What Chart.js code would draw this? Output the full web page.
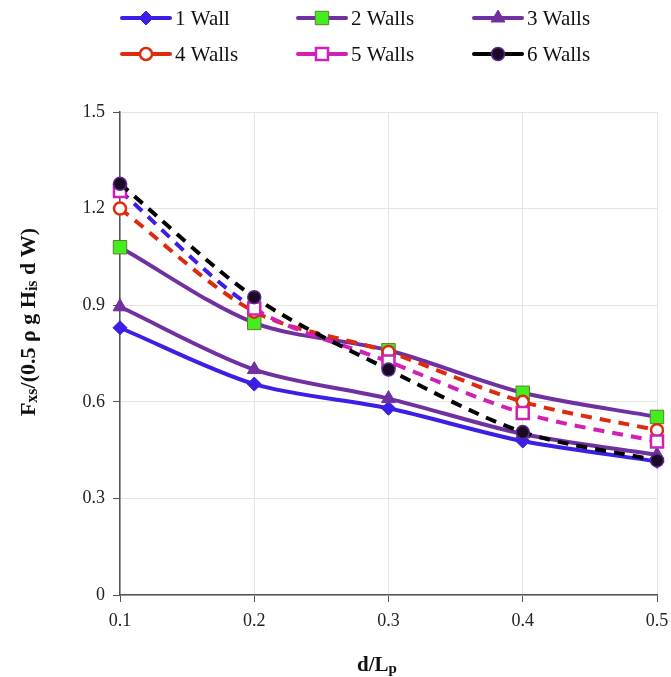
<!DOCTYPE html>
<html>
<head>
<meta charset="utf-8">
<script src="https://cdn.jsdelivr.net/npm/chart.js@4.4.1/dist/chart.umd.min.js"></script>
<style>
    html, body { margin: 0; padding: 0; background: #fff; }
    #wrap { width: 671px; height: 677px; position: relative; }
</style>
</head>
<body>
<div id="wrap"><canvas id="wallChart"></canvas></div>
<script>
// d/Lp values and force ratios
const ratios = [0.1, 0.2, 0.3, 0.4, 0.5];
const yTicks = [0, 0.3, 0.6, 0.9, 1.2, 1.5];
const seriesNames = ['1 Wall', '2 Walls', '3 Walls', '4 Walls', '5 Walls', '6 Walls'];
const wall1 = [0.83, 0.655, 0.58, 0.478, 0.415];
const wall2 = [1.08, 0.845, 0.76, 0.628, 0.553];
const wall3 = [0.895, 0.70, 0.61, 0.50, 0.435];
const wall4 = [1.20, 0.88, 0.755, 0.60, 0.512];
const wall5 = [1.255, 0.89, 0.725, 0.565, 0.477];
const wall6 = [1.277, 0.925, 0.70, 0.506, 0.418];

const SERIF = '"Liberation Serif", "Times New Roman", serif';
const toPoints = vals => vals.map((v, i) => ({ x: ratios[i], y: v }));

const datasets = [
    { label: seriesNames[0], data: toPoints(wall1), borderColor: '#3b1fe6', backgroundColor: '#3b1fe6',
      pointStyle: 'rectRot', pointRadius: 7, pointBorderWidth: 1, order: 6 },
    { label: seriesNames[1], data: toPoints(wall2), borderColor: '#7030a0', backgroundColor: '#44ee1e',
      pointBorderColor: '#5a7f2c', pointStyle: 'rect', pointRadius: 9.5, pointBorderWidth: 1, order: 5 },
    { label: seriesNames[2], data: toPoints(wall3), borderColor: '#7030a0', backgroundColor: '#7030a0',
      pointStyle: 'triangle', pointRadius: 8, pointBorderWidth: 1, order: 4 },
    { label: seriesNames[3], data: toPoints(wall4), borderColor: '#e02a10', backgroundColor: '#ffffff',
      pointStyle: 'circle', pointRadius: 6, pointBorderWidth: 2.5, borderDash: [11, 8], order: 3 },
    { label: seriesNames[4], data: toPoints(wall5), borderColor: '#d21fb4', backgroundColor: '#ffffff',
      pointStyle: 'rect', pointRadius: 8.5, pointBorderWidth: 2.5, borderDash: [11, 8], order: 2,
      // first segment shows up blue in the original figure
      segment: { borderColor: ctx => ctx.p0DataIndex === 0 ? '#3b1fe6' : undefined } },
    { label: seriesNames[5], data: toPoints(wall6), borderColor: '#000000', backgroundColor: '#1a0a24',
      pointBorderColor: '#5a2a8a', pointStyle: 'circle', pointRadius: 6.5, pointBorderWidth: 1.5,
      borderDash: [11, 8], order: 1 }
];
datasets.forEach(d => {
    d.borderWidth = 4;
    d.tension = 0.3;
    d.clip = false;
    d.pointBackgroundColor = d.backgroundColor;
    if (!d.pointBorderColor) d.pointBorderColor = d.borderColor;
});

// draw text with subscript pieces, centred on (0,0)
function drawRich(ctx, parts, size) {
    const subSize = Math.round(size * 0.72);
    let total = 0;
    parts.forEach(p => {
        ctx.font = 'bold ' + (p.sub ? subSize : size) + 'px ' + SERIF;
        p.w = ctx.measureText(p.t).width;
        total += p.w;
    });
    let x = -total / 2;
    ctx.textAlign = 'left';
    ctx.textBaseline = 'alphabetic';
    parts.forEach(p => {
        ctx.font = 'bold ' + (p.sub ? subSize : size) + 'px ' + SERIF;
        ctx.fillText(p.t, x, p.sub ? size * 0.45 : size * 0.35);
        x += p.w;
    });
}

const decorPlugin = {
    id: 'decor',
    afterDraw(chart) {
        const ctx = chart.ctx;
        ctx.save();
        ctx.fillStyle = '#111';

        // axis titles
        ctx.save();
        ctx.translate(27, 322);
        ctx.rotate(-Math.PI / 2);
        drawRich(ctx, [{ t: 'F' }, { t: 'xs', sub: true }, { t: '/(0.5 ρ g H' }, { t: 'is', sub: true }, { t: ' d W)' }], 22);
        ctx.restore();

        ctx.save();
        ctx.translate(377, 664);
        drawRich(ctx, [{ t: 'd/L' }, { t: 'p', sub: true }], 21);
        ctx.restore();

        // legend: line + marker + label, 3 columns x 2 rows
        const colX = [122, 298, 474];
        const rowY = [18, 54];
        chart.data.datasets.forEach((ds, i) => {
            const x0 = colX[i % 3], y = rowY[Math.floor(i / 3)];
            const len = 48;
            ctx.save();
            ctx.strokeStyle = ds.borderColor;
            ctx.lineWidth = 4;
            ctx.lineCap = 'round';
            ctx.beginPath();
            ctx.moveTo(x0, y);
            ctx.lineTo(x0 + len, y);
            ctx.stroke();
            ctx.restore();
            ctx.save();
            ctx.fillStyle = ds.pointBackgroundColor;
            ctx.strokeStyle = ds.pointBorderColor;
            ctx.lineWidth = ds.pointBorderWidth;
            Chart.helpers.drawPoint(ctx, {
                pointStyle: ds.pointStyle,
                radius: ds.pointRadius,
                borderWidth: ds.pointBorderWidth,
                rotation: 0
            }, x0 + len / 2, y);
            ctx.restore();
            ctx.fillStyle = '#111';
            ctx.font = '21px ' + SERIF;
            ctx.textAlign = 'left';
            ctx.textBaseline = 'middle';
            ctx.fillText(ds.label, x0 + len + 5, y + 1);
        });
        ctx.restore();
    }
};

new Chart(document.getElementById('wallChart'), {
    type: 'line',
    data: { datasets },
    options: {
        responsive: true,
        maintainAspectRatio: false,
        animation: false,
        layout: { padding: { top: 112, right: 14, left: 0, bottom: 0 } },
        plugins: { legend: { display: false }, tooltip: { enabled: false } },
        scales: {
            x: {
                type: 'linear',
                min: 0.1,
                max: 0.5,
                afterBuildTicks: s => { s.ticks = ratios.map(v => ({ value: v })); },
                afterFit: s => { s.height = 82; s.paddingRight = 0; s.paddingLeft = 0; },
                ticks: {
                    font: { family: SERIF, size: 18 },
                    color: '#222',
                    padding: 8,
                    maxRotation: 0,
                    callback: v => v.toFixed(1)
                },
                grid: { color: '#e4e4e4', tickColor: '#555', tickLength: 7, lineWidth: 1 },
                border: { color: '#555', width: 1.5 }
            },
            y: {
                min: 0,
                max: 1.5,
                afterBuildTicks: s => { s.ticks = yTicks.map(v => ({ value: v })); },
                afterFit: s => { s.width = 120; },
                ticks: {
                    font: { family: SERIF, size: 18 },
                    color: '#222',
                    padding: 8,
                    callback: v => v === 0 ? '0' : v.toFixed(1)
                },
                grid: { color: '#e4e4e4', tickColor: '#555', tickLength: 7, lineWidth: 1 },
                border: { color: '#555', width: 1.5 }
            }
        }
    },
    plugins: [decorPlugin]
});
</script>
</body>
</html>
